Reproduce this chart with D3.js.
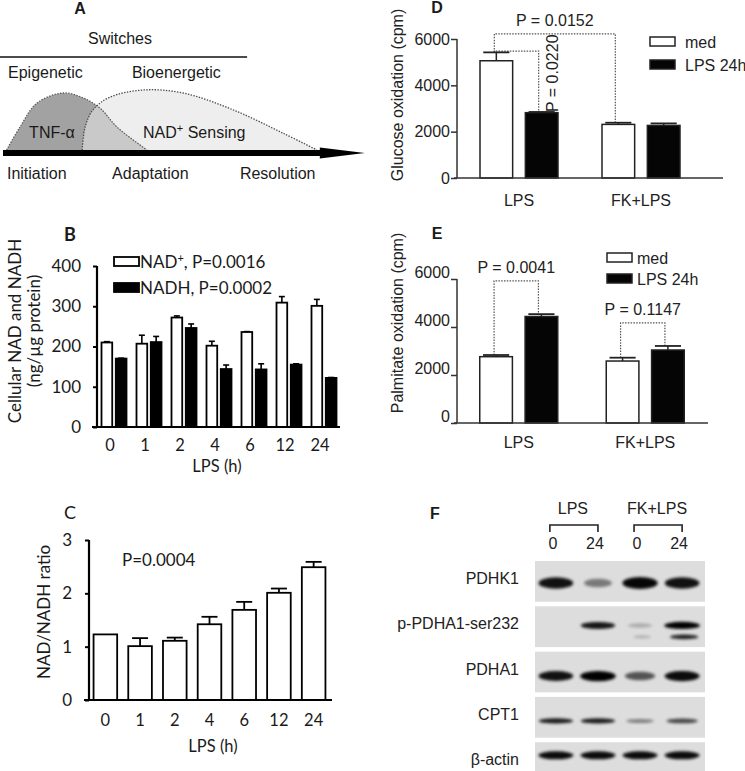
<!DOCTYPE html>
<html><head><meta charset="utf-8">
<script src="https://cdn.jsdelivr.net/npm/d3@7"></script>
<style>
html,body{margin:0;padding:0;background:#fff;}
svg{display:block;}
</style></head><body>
<svg id="fig" width="745" height="771"></svg>
<script>
// ================= DATA =================
// Panel A schematic: time axis (0-100) and relative level (0-1)
const aTnfTime  = [1, 4.7, 9.4, 16.7, 22.2, 26.9, 31.7, 40];
const aTnfLevel = [0, 0.38, 0.78, 0.95, 0.87, 0.70, 0.38, 0];
const aNadTime  = [22, 22.8, 25, 29.7, 38.9, 50, 63.9, 77.8, 87.2];
const aNadLevel = [0, 0.38, 0.67, 0.88, 1.0, 0.95, 0.67, 0.28, 0];
const aPhases = ["Initiation", "Adaptation", "Resolution"];
const aPhaseTime = [1.1, 30.3, 65.8];
const aSwitches = ["Epigenetic", "Bioenergetic"];
const aSwitchTime = [1.4, 35.8];

// Panel B: cellular NAD+ and NADH (ng/µg protein)
const bHours = ["0", "1", "2", "4", "6", "12", "24"];
const bNad = [210, 207, 272, 202, 236, 309, 301];
const bNadErr = [2, 21, 4, 11, 1, 15, 16];
const bNadh = [170, 211, 246, 144, 143, 155, 122];
const bNadhErr = [1, 14, 10, 10, 14, 2, 1];
const bTicks = [0, 100, 200, 300, 400];

// Panel C: NAD/NADH ratio
const cRatio = [1.23, 1.01, 1.11, 1.42, 1.69, 2.01, 2.49];
const cErr = [0, 0.15, 0.06, 0.14, 0.15, 0.08, 0.10];
const cTicks = [0, 1, 2, 3];

// Panels D & E: oxidation (cpm)
const oxGroups = ["LPS", "FK+LPS"];
const oxSeries = ["med", "LPS 24h"];
const dMed = [5061, 2314];
const dMedErr = [362, 72];
const dLps = [2820, 2270];
const dLpsErr = [30, 87];
const eMed = [2763, 2582];
const eMedErr = [70, 139];
const eLps = [4438, 3042];
const eLpsErr = [98, 168];
const oxTicks = [0, 2000, 4000, 6000];
const dBrackets = [
  {label: "P = 0.0152", g1: 0, s1: 0, g2: 1, s2: 0, level: 6220},
  {label: "P = 0.0220", g1: 0, s1: 0, g2: 0, s2: 1, level: 5480}
];
const eBrackets = [
  {label: "P = 0.0041", g1: 0, s1: 0, g2: 0, s2: 1, level: 5920},
  {label: "P = 0.1147", g1: 1, s1: 0, g2: 1, s2: 1, level: 4170}
];

// Panel F: western blot
const fGroups = ["LPS", "FK+LPS"];
const fLaneTimes = ["0", "24", "0", "24"];
const fProteins = ["PDHK1", "p-PDHA1-ser232", "PDHA1", "CPT1", "β-actin"];
const fBandIntensity = [
  [0.92, 0.45, 0.97, 0.92],
  [0.0, 0.9, 0.22, 1.0],
  [0.92, 1.0, 0.62, 0.95],
  [0.88, 0.88, 0.42, 0.68],
  [0.95, 0.95, 0.95, 0.95]
];
const fLowerBand = [0, 0, 0.2, 0.85]; // second p-PDHA1 band

// ================= DRAW =================
const svg = d3.select("#fig");
svg.append("rect").attr("width", 745).attr("height", 771).attr("fill", "#fff");
const INK = "#1a1a1a";
const ARIAL = "Arial, 'Liberation Sans', sans-serif";
const CAL = "Lato, 'Open Sans', sans-serif";
const defs = svg.append("defs");
const fmtInt = d3.format("d");

function txt(g, x, y, s, opt = {}) {
  return g.append("text").attr("x", x).attr("y", y)
    .attr("font-family", opt.font || ARIAL)
    .attr("font-size", opt.size || 16)
    .attr("font-weight", opt.weight || "normal")
    .attr("text-anchor", opt.anchor || "start")
    .attr("dominant-baseline", opt.base || "auto")
    .attr("fill", opt.fill || INK)
    .text(s);
}

// ---------- Panel A ----------
const gA = svg.append("g");
const xA = d3.scaleLinear().domain([0, 100]).range([3, 363]);
const yA = d3.scaleLinear().domain([0, 1]).range([150, 90]);
const tnf = aTnfTime.map((t, i) => [t, aTnfLevel[i]]);
const nad = aNadTime.map((t, i) => [t, aNadLevel[i]]);
const crv = d3.curveCatmullRom.alpha(0.5);
const areaA = d3.area().x(d => xA(d[0])).y0(yA(0)).y1(d => yA(d[1])).curve(crv);
const lineA = d3.line().x(d => xA(d[0])).y(d => yA(d[1])).curve(crv);
defs.append("clipPath").attr("id", "tnfClip").append("path").attr("d", areaA(tnf));
gA.append("path").attr("d", areaA(nad)).attr("fill", "#eeeeee");
gA.append("path").attr("d", areaA(tnf)).attr("fill", "#a2a2a2");
gA.append("path").attr("d", areaA(nad)).attr("fill", "#c9c9c9").attr("clip-path", "url(#tnfClip)");
gA.append("path").attr("d", lineA(tnf)).attr("fill", "none").attr("stroke", "#5a5a5a")
  .attr("stroke-width", 1.3).attr("stroke-dasharray", "1.4,1.4");
gA.append("path").attr("d", lineA(nad)).attr("fill", "none").attr("stroke", "#4a4a4a")
  .attr("stroke-width", 1.3).attr("stroke-dasharray", "1.4,1.4");
// arrow
const ay = yA(0) + 3;
gA.append("line").attr("x1", xA(0)).attr("x2", xA(91)).attr("y1", ay).attr("y2", ay)
  .attr("stroke", "#000").attr("stroke-width", 6);
gA.append("path").attr("d", `M${xA(88)},${ay - 5.5}L${xA(100.5)},${ay}L${xA(88)},${ay + 5.5}Z`).attr("fill", "#000");
// switches header
txt(gA, 80, 14, "A", {weight: "bold", anchor: "middle"});
txt(gA, xA(32.5), 44, "Switches", {anchor: "middle"});
gA.append("line").attr("x1", 0).attr("x2", xA(67.8)).attr("y1", 57).attr("y2", 57)
  .attr("stroke", "#111").attr("stroke-width", 1.3);
aSwitches.forEach((s, i) => txt(gA, xA(aSwitchTime[i]), 78, s));
txt(gA, xA(13.6), 138, "TNF-α", {anchor: "middle"});
const nt = txt(gA, xA(38.9), 138, "NAD");
nt.append("tspan").attr("dy", -6).attr("font-size", 11).text("+");
nt.append("tspan").attr("dy", 6).text(" Sensing");
aPhases.forEach((s, i) => txt(gA, xA(aPhaseTime[i]), 179, s));

// ---------- Panel B ----------
const gB = svg.append("g");
const xB = d3.scaleBand().domain(bHours).range([96.5, 341.5]);
const xBin = d3.scaleBand().domain(["nad", "nadh"]).range([-12.5, 12.5]).paddingInner(0.25);
const yB = d3.scaleLinear().domain([0, 400]).range([427, 266]);
const bSeries = [
  {key: "nad", v: bNad, e: bNadErr, fill: "#fff"},
  {key: "nadh", v: bNadh, e: bNadhErr, fill: "#000"}
];
bSeries.forEach(s => {
  bHours.forEach((h, i) => {
    const cx = xB(h) + xB.bandwidth() / 2 + xBin(s.key);
    const w = xBin.bandwidth();
    if (s.e[i] > 0.5) {
      gB.append("line").attr("x1", cx + w / 2).attr("x2", cx + w / 2)
        .attr("y1", yB(s.v[i])).attr("y2", yB(s.v[i] + s.e[i])).attr("stroke", "#000").attr("stroke-width", 1.6);
      gB.append("line").attr("x1", cx + w / 2 - 3).attr("x2", cx + w / 2 + 3)
        .attr("y1", yB(s.v[i] + s.e[i])).attr("y2", yB(s.v[i] + s.e[i])).attr("stroke", "#000").attr("stroke-width", 1.6);
    }
    gB.append("rect").attr("x", cx).attr("y", yB(s.v[i])).attr("width", w)
      .attr("height", yB(0) - yB(s.v[i])).attr("fill", s.fill).attr("stroke", "#000").attr("stroke-width", 1.8);
  });
});
const axB = gB.append("g").attr("transform", "translate(97,0)")
  .call(d3.axisLeft(yB).tickValues(bTicks).tickFormat(fmtInt).tickSize(4).tickPadding(12));
axB.select(".domain").remove();
axB.selectAll("line").attr("stroke", "#000").attr("stroke-width", 2);
axB.selectAll("text").attr("font-family", CAL).attr("font-size", 17).attr("fill", INK);
gB.append("line").attr("x1", 97).attr("x2", 97).attr("y1", yB(400)).attr("y2", yB(0)).attr("stroke", "#000").attr("stroke-width", 2.2);
gB.append("line").attr("x1", 92).attr("x2", 340).attr("y1", yB(0)).attr("y2", yB(0)).attr("stroke", "#000").attr("stroke-width", 2.2);
bHours.forEach(h => txt(gB, xB(h) + xB.bandwidth() / 2 - 4, 445, h, {font: CAL, size: 16.5, anchor: "middle", base: "central"}));
txt(gB, 217, 466, "LPS (h)", {font: CAL, size: 16.5, anchor: "middle", base: "central"});
txt(gB, 70, 241, "B", {font: CAL, size: 18, weight: "bold", anchor: "middle"});
// legend
gB.append("rect").attr("x", 114).attr("y", 257).attr("width", 25).attr("height", 9).attr("fill", "#fff").attr("stroke", "#000").attr("stroke-width", 1.8);
gB.append("rect").attr("x", 114).attr("y", 283).attr("width", 25).attr("height", 9).attr("fill", "#000").attr("stroke", "#000").attr("stroke-width", 1.8);
const lb1 = txt(gB, 140, 268, "NAD", {font: CAL, size: 17});
lb1.append("tspan").attr("dy", -6).attr("font-size", 11).text("+");
lb1.append("tspan").attr("dy", 6).text(", P=0.0016");
txt(gB, 140, 294, "NADH, P=0.0002", {font: CAL, size: 17});
// y label
const ylB = gB.append("g").attr("transform", "translate(14,331) rotate(-90)");
txt(ylB, 0, 0, "Cellular NAD and NADH", {font: CAL, size: 17, anchor: "middle", base: "central"});
txt(ylB, 0, 19, "(ng/µg protein)", {font: CAL, size: 17, anchor: "middle", base: "central"});

// ---------- Panel C ----------
const gC = svg.append("g");
const xC = d3.scaleBand().domain(bHours).range([88, 331]).paddingInner(0.32).paddingOuter(0.16);
const yC = d3.scaleLinear().domain([0, 3]).range([700, 540]);
bHours.forEach((h, i) => {
  const x0 = xC(h), w = xC.bandwidth(), cx = x0 + w / 2;
  if (cErr[i] > 0.01) {
    gC.append("line").attr("x1", cx).attr("x2", cx).attr("y1", yC(cRatio[i])).attr("y2", yC(cRatio[i] + cErr[i]))
      .attr("stroke", "#000").attr("stroke-width", 1.8);
    gC.append("line").attr("x1", cx - 8).attr("x2", cx + 8).attr("y1", yC(cRatio[i] + cErr[i])).attr("y2", yC(cRatio[i] + cErr[i]))
      .attr("stroke", "#000").attr("stroke-width", 1.8);
  }
  gC.append("rect").attr("x", x0).attr("y", yC(cRatio[i])).attr("width", w).attr("height", yC(0) - yC(cRatio[i]))
    .attr("fill", "#fff").attr("stroke", "#000").attr("stroke-width", 1.8);
});
const axC = gC.append("g").attr("transform", "translate(89,0)")
  .call(d3.axisLeft(yC).tickValues(cTicks).tickFormat(fmtInt).tickSize(4).tickPadding(13));
axC.select(".domain").remove();
axC.selectAll("line").attr("stroke", "#000").attr("stroke-width", 2);
axC.selectAll("text").attr("font-family", CAL).attr("font-size", 17).attr("fill", INK);
gC.append("line").attr("x1", 89).attr("x2", 89).attr("y1", yC(3)).attr("y2", yC(0)).attr("stroke", "#000").attr("stroke-width", 2.2);
gC.append("line").attr("x1", 84).attr("x2", 332).attr("y1", yC(0)).attr("y2", yC(0)).attr("stroke", "#000").attr("stroke-width", 2.2);
bHours.forEach(h => txt(gC, xC(h) + xC.bandwidth() / 2, 720, h, {font: CAL, size: 16.5, anchor: "middle", base: "central"}));
txt(gC, 213, 746, "LPS (h)", {font: CAL, size: 16.5, anchor: "middle", base: "central"});
txt(gC, 70, 519, "C", {font: CAL, size: 18, anchor: "middle"});
txt(gC, 122, 566, "P=0.0004", {font: CAL, size: 17});
const ylC = gC.append("g").attr("transform", "translate(43,612) rotate(-90)");
txt(ylC, 0, 0, "NAD/NADH ratio", {font: CAL, size: 17, anchor: "middle", base: "central"});

// ---------- Panels D & E ----------
function oxPanel(cfg) {
  const g = svg.append("g");
  const x = d3.scaleBand().domain(oxGroups).range(cfg.xr);
  const xin = d3.scaleBand().domain(oxSeries).range([-39, 39]).paddingInner(0.28);
  const y = d3.scaleLinear().domain([0, 6000]).range(cfg.yr);
  const series = [
    {key: "med", v: cfg.med, e: cfg.medErr, fill: "#fff"},
    {key: "LPS 24h", v: cfg.lps, e: cfg.lpsErr, fill: "#050505"}
  ];
  const cxOf = (gi, si) => x(oxGroups[gi]) + x.bandwidth() / 2 + xin(oxSeries[si]) + xin.bandwidth() / 2;
  const topOf = (gi, si) => series[si].v[gi] + series[si].e[gi];
  const labels = [];
  cfg.brackets.forEach((b, bi) => {
    const x1 = cxOf(b.g1, b.s1) - 2, x2 = cxOf(b.g2, b.s2) - 3, yl = y(b.level);
    const p = `M${x1},${y(topOf(b.g1, b.s1))}L${x1},${yl}L${x2},${yl}L${x2},${y(topOf(b.g2, b.s2))}`;
    g.append("path").attr("d", p).attr("fill", "none").attr("stroke", "#555").attr("stroke-width", 1.2).attr("stroke-dasharray", "1.5,1.3");
    labels.push({b, bi, x1, x2, yl});
  });
  series.forEach((s, si) => {
    oxGroups.forEach((gname, gi) => {
      const cx = cxOf(gi, si), w = xin.bandwidth();
      const yt = y(s.v[gi]), ye = y(s.v[gi] + s.e[gi]);
      g.append("line").attr("x1", cx).attr("x2", cx).attr("y1", yt).attr("y2", ye).attr("stroke", "#222").attr("stroke-width", 1.5);
      g.append("line").attr("x1", cx - w * 0.4).attr("x2", cx + w * 0.4).attr("y1", ye).attr("y2", ye).attr("stroke", "#222").attr("stroke-width", 1.8);
      g.append("rect").attr("x", cx - w / 2).attr("y", yt).attr("width", w).attr("height", y(0) - yt)
        .attr("fill", s.fill).attr("stroke", "#222").attr("stroke-width", 1.5);
    });
  });
  labels.forEach(({b, bi, x1, x2, yl}) => {
    if (cfg.rotLabel === bi) {
      const ybar = y(series[b.s2].v[b.g2]);
      const yc = yl + (ybar - yl) * 0.36;
      const tg = g.append("g").attr("transform", `translate(${x2 + 14},${yc}) rotate(-90)`);
      txt(tg, 0, 0, b.label, {anchor: "middle", base: "central", fill: "#222"});
    } else {
      txt(g, (x1 + x2) / 2, yl - 8, b.label, {anchor: "middle", fill: "#222"});
    }
  });
  const ax = g.append("g").attr("transform", `translate(${cfg.ax},0)`)
    .call(d3.axisLeft(y).tickValues(oxTicks).tickFormat(fmtInt).tickSize(6).tickPadding(1));
  ax.select(".domain").remove();
  ax.selectAll("line").attr("stroke", "#333").attr("stroke-width", 1.5);
  ax.selectAll("text").attr("font-family", ARIAL).attr("font-size", 16).attr("fill", "#222").attr("dy", cfg.tickDy);
  g.append("line").attr("x1", cfg.ax).attr("x2", cfg.ax).attr("y1", y(6000)).attr("y2", y(0)).attr("stroke", "#333").attr("stroke-width", 1.5);
  g.append("line").attr("x1", cfg.ax - 3).attr("x2", cfg.xEnd).attr("y1", y(0)).attr("y2", y(0)).attr("stroke", "#333").attr("stroke-width", 1.5);
  oxGroups.forEach(gname => txt(g, x(gname) + x.bandwidth() / 2, y(0) + cfg.labOff, gname, {anchor: "middle", base: "central", fill: "#222"}));
  txt(g, 437, cfg.letterY, cfg.letter, {weight: "bold", anchor: "middle"});
  series.forEach((s, si) => {
    g.append("rect").attr("x", cfg.lx).attr("y", cfg.ly + si * cfg.lstep).attr("width", 25).attr("height", 9)
      .attr("fill", s.fill).attr("stroke", "#222").attr("stroke-width", 1.5);
    txt(g, cfg.lx + cfg.ltx, cfg.ly + si * cfg.lstep + 5, s.key, {base: "central", fill: "#222"});
  });
  const yl = g.append("g").attr("transform", `translate(397,${cfg.ylabY}) rotate(-90)`);
  txt(yl, 0, 0, cfg.ylab, {anchor: "middle", base: "central", fill: "#222"});
}
oxPanel({xr: [458, 702], yr: [178, 39], ax: 457, xEnd: 723, med: dMed, medErr: dMedErr, lps: dLps, lpsErr: dLpsErr,
  brackets: dBrackets, rotLabel: 1, tickDy: "0.32em", labOff: 22, letter: "D", letterY: 13,
  lx: 650, ly: 37, lstep: 23, ltx: 35, ylab: "Glucose oxidation (cpm)", ylabY: 95});
oxPanel({xr: [455.5, 708.5], yr: [423, 279], ax: 457, xEnd: 708, med: eMed, medErr: eMedErr, lps: eLps, lpsErr: eLpsErr,
  brackets: eBrackets, rotLabel: -1, tickDy: "-0.1em", labOff: 19, letter: "E", letterY: 239,
  lx: 607, ly: 253, lstep: 21, ltx: 30, ylab: "Palmitate oxidation (cpm)", ylabY: 323});

// ---------- Panel F ----------
const gF = svg.append("g");
txt(gF, 435, 519, "F", {weight: "bold", anchor: "middle"});
const lanes = d3.scaleBand().domain(d3.range(4)).range([538, 700]).paddingInner(0.15);
const rows = d3.scaleBand().domain(fProteins).range([561, 783]).paddingInner(0.1);
const lc = i => lanes(i) + lanes.bandwidth() / 2;
const blur = defs.append("filter").attr("id", "blur").attr("x", "-20%").attr("y", "-50%").attr("width", "140%").attr("height", "200%");
blur.append("feGaussianBlur").attr("stdDeviation", 1.6);
defs.append("clipPath").attr("id", "blotClip").append("rect").attr("x", 534).attr("y", 555).attr("width", 175).attr("height", 216);
const bandPos = [0.54, 0.47, 0.6, 0.59, 0.32];
const bandH = [6, 3.6, 5.2, 2.8, 4.2];
fGroups.forEach((gname, gi) => {
  const a = lc(gi * 2), b = lc(gi * 2 + 1);
  txt(gF, (a + b) / 2 - 4, 514, gname, {anchor: "middle", fill: "#222"});
  gF.append("path").attr("d", `M${a - 6},532L${a - 6},525L${b},525L${b},532`).attr("fill", "none").attr("stroke", "#222").attr("stroke-width", 1.6);
});
fLaneTimes.forEach((t, i) => txt(gF, lc(i) - 3, 549, t, {anchor: "middle", fill: "#222"}));
const gBlot = gF.append("g").attr("clip-path", "url(#blotClip)");
fProteins.forEach((p, ri) => {
  const y0 = rows(p), h = rows.bandwidth();
  gBlot.append("rect").attr("x", 535).attr("y", y0).attr("width", 170).attr("height", h).attr("fill", "#dddddd");
  txt(gF, 519, y0 + h / 2 - 3, p, {anchor: "end", base: "central", fill: "#222"});
  fBandIntensity[ri].forEach((v, li) => {
    if (v <= 0) return;
    const by = y0 + h * bandPos[ri];
    gBlot.append("ellipse").attr("cx", lc(li)).attr("cy", by)
      .attr("rx", lanes.bandwidth() / 2 * (0.6 + 0.4 * v)).attr("ry", bandH[ri] * (0.5 + 0.5 * v))
      .attr("fill", "#050505").attr("opacity", v).attr("filter", "url(#blur)");
  });
  if (p === "p-PDHA1-ser232") {
    fLowerBand.forEach((v, li) => {
      if (v <= 0) return;
      gBlot.append("ellipse").attr("cx", lc(li) + 2).attr("cy", y0 + h * 0.75)
        .attr("rx", lanes.bandwidth() / 2 * (0.4 + 0.45 * v)).attr("ry", 2.6 * (0.5 + 0.5 * v))
        .attr("fill", "#050505").attr("opacity", v).attr("filter", "url(#blur)");
    });
  }
});
</script>
</body></html>
